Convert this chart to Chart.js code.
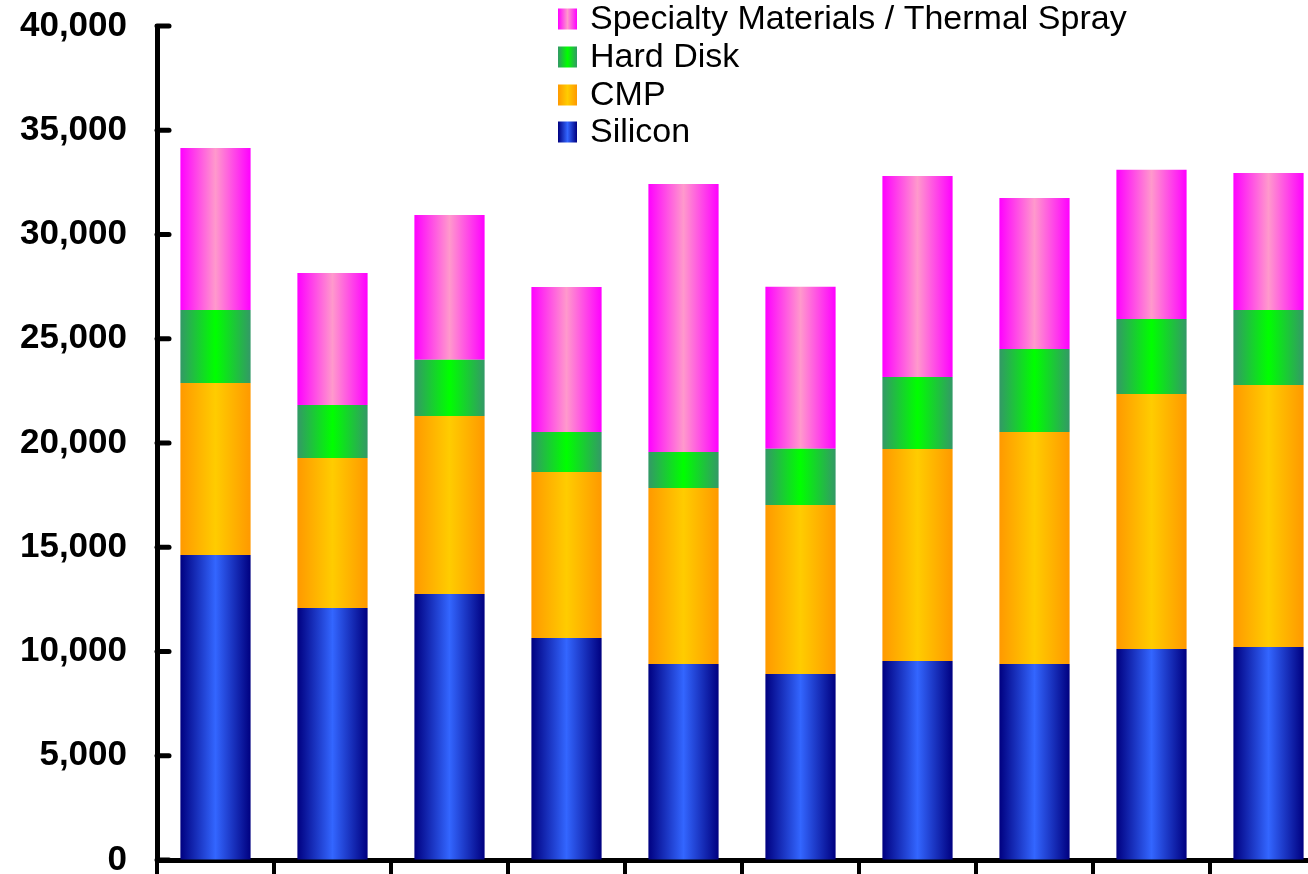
<!DOCTYPE html>
<html>
<head>
<meta charset="utf-8">
<script src="https://cdn.jsdelivr.net/npm/chart.js@4.4.1/dist/chart.umd.min.js"></script>
<style>
  html, body { margin: 0; padding: 0; background: #ffffff; overflow: hidden; }
  #wrap { position: relative; width: 1330px; height: 884px; }
</style>
</head>
<body>
<div id="wrap"><canvas id="chart"></canvas></div>
<script>
// Period categories (axis labels fall below the visible frame)
const categories = ['P1', 'P2', 'P3', 'P4', 'P5', 'P6', 'P7', 'P8', 'P9', 'P10'];

// Segment values per period
const silicon   = [14630, 12090, 12760, 10650, 9400, 8920, 9540, 9400, 10120, 10220];
const cmp       = [8250, 7190, 8540, 7960, 8440, 8110, 10170, 11130, 12230, 12560];
const hardDisk  = [3500, 2540, 2690, 1920, 1730, 2690, 3450, 3980, 3600, 3600];
const specialty = [7770, 6330, 6950, 6950, 12850, 7770, 9640, 7240, 7150, 6570];

const seriesNames = ['Silicon', 'CMP', 'Hard Disk', 'Specialty Materials / Thermal Spray'];
const yTickValues = [0, 5000, 10000, 15000, 20000, 25000, 30000, 35000, 40000];

// Edge / centre colours for the cylinder-like horizontal shading
const edgeColors   = ['#000080', '#FF9900', '#339966', '#FF00FF'];
const centerColors = ['#3366FF', '#FFCC00', '#00FF00', '#FF99CC'];

const BAR_FRACTION = 0.6;

function shade(ctx2d, x0, x1, edge, center) {
  const g = ctx2d.createLinearGradient(x0, 0, x1, 0);
  g.addColorStop(0, edge);
  g.addColorStop(0.5, center);
  g.addColorStop(1, edge);
  return g;
}

function barFill(seriesIndex) {
  return (c) => {
    const chart = c.chart;
    const xs = chart.scales && chart.scales.x;
    if (!xs || c.dataIndex === undefined || !chart.chartArea) return edgeColors[seriesIndex];
    const mid = xs.getPixelForValue(c.dataIndex);
    const half = xs.width / categories.length * BAR_FRACTION / 2;
    return shade(chart.ctx, mid - half, mid + half, edgeColors[seriesIndex], centerColors[seriesIndex]);
  };
}

// Inward-pointing tick marks on the value axis
const innerTicks = {
  id: 'innerTicks',
  afterDraw(chart) {
    const ys = chart.scales.y;
    const ctx = chart.ctx;
    const left = chart.chartArea.left;
    ctx.save();
    ctx.strokeStyle = '#000';
    ctx.lineWidth = 5;
    ctx.lineCap = 'round';
    yTickValues.forEach(v => {
      const y = ys.getPixelForValue(v);
      ctx.beginPath();
      ctx.moveTo(left, y);
      ctx.lineTo(left + 12, y);
      ctx.stroke();
    });
    ctx.restore();
  }
};

// Legend block listed top-down from the last series to the first
const legendBlock = {
  id: 'legendBlock',
  afterDraw(chart) {
    const ctx = chart.ctx;
    ctx.save();
    ctx.font = '34px "Liberation Sans", Arial, sans-serif';
    ctx.textBaseline = 'middle';
    ctx.textAlign = 'left';
    const x0 = 558, sw = 19, sh = 21, textX = 590;
    const rowY = [19, 57, 95, 132];
    for (let r = 0; r < 4; r++) {
      const s = 3 - r;
      const cy = rowY[r];
      ctx.fillStyle = shade(ctx, x0, x0 + sw, edgeColors[s], centerColors[s]);
      ctx.fillRect(x0, cy - sh / 2, sw, sh);
      ctx.fillStyle = '#000';
      ctx.fillText(seriesNames[s], textX, cy + 1);
    }
    ctx.restore();
  }
};

const seriesData = [silicon, cmp, hardDisk, specialty];

new Chart(document.getElementById('chart'), {
  type: 'bar',
  data: {
    labels: categories,
    datasets: seriesData.map((d, i) => ({
      label: seriesNames[i],
      data: d,
      backgroundColor: barFill(i),
      borderWidth: 0,
      barPercentage: BAR_FRACTION,
      categoryPercentage: 1.0
    }))
  },
  options: {
    responsive: true,
    maintainAspectRatio: false,
    animation: false,
    layout: { padding: { top: 26, right: 3, bottom: 4, left: 0 } },
    plugins: {
      legend: { display: false },
      tooltip: { enabled: false }
    },
    scales: {
      x: {
        stacked: true,
        offset: true,
        ticks: { display: false },
        grid: {
          display: true,
          drawOnChartArea: false,
          drawTicks: true,
          tickLength: 20,
          lineWidth: 4,
          color: '#000',
          offset: true
        },
        border: { display: true, color: '#000', width: 5 }
      },
      y: {
        stacked: true,
        min: 0,
        max: 40000,
        afterFit(scale) { scale.width = 157; },
        ticks: {
          stepSize: 5000,
          padding: 0,
          color: '#000',
          font: { family: '"Liberation Sans", Arial, sans-serif', size: 35, weight: 'bold' },
          callback: (v) => Number(v).toLocaleString('en-US')
        },
        grid: {
          display: true,
          drawOnChartArea: false,
          drawTicks: true,
          tickLength: 30,
          tickColor: 'rgba(0,0,0,0)'
        },
        border: { display: true, color: '#000', width: 5 }
      }
    }
  },
  plugins: [innerTicks, legendBlock]
});
</script>
</body>
</html>
